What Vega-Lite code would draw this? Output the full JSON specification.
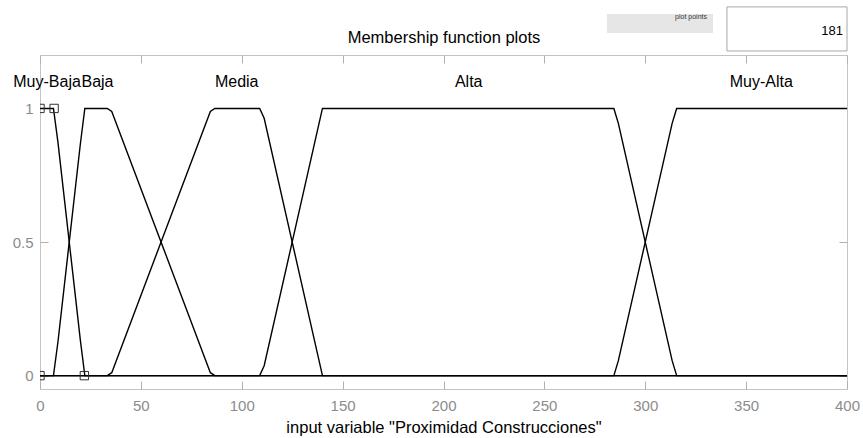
{
  "$schema": "https://vega.github.io/schema/vega-lite/v6.json",
  "width": 807,
  "height": 334,
  "autosize": {"type": "none"},
  "padding": {"left": 40, "top": 55, "right": 16, "bottom": 49},
  "background": "white",
  "config": {
    "view": {"stroke": "#c4c4c4", "strokeWidth": 1},
    "axis": {"domain": false, "grid": false, "tickColor": "#b0b0b0", "tickSize": -8, "labelColor": "#8c8c8c", "labelFont": "Liberation Sans", "labelFontSize": 15, "labelFlush": false, "titleFont": "Liberation Sans", "titleFontSize": 16.5, "titleFontWeight": "normal", "titleColor": "#000000"}
  },
  "datasets": {
    "mf": [
      {"set": "Muy-Baja", "x": 0, "y": 1}, {"set": "Muy-Baja", "x": 6.67, "y": 1}, {"set": "Muy-Baja", "x": 8.89, "y": 0.874}, {"set": "Muy-Baja", "x": 20, "y": 0.133}, {"set": "Muy-Baja", "x": 22.22, "y": 0}, {"set": "Muy-Baja", "x": 400, "y": 0},
      {"set": "Baja", "x": 0, "y": 0}, {"set": "Baja", "x": 6.67, "y": 0}, {"set": "Baja", "x": 8.89, "y": 0.126}, {"set": "Baja", "x": 20, "y": 0.867}, {"set": "Baja", "x": 22.22, "y": 1}, {"set": "Baja", "x": 33.33, "y": 1}, {"set": "Baja", "x": 35.56, "y": 0.989}, {"set": "Baja", "x": 84.44, "y": 0.011}, {"set": "Baja", "x": 86.67, "y": 0}, {"set": "Baja", "x": 400, "y": 0},
      {"set": "Media", "x": 0, "y": 0}, {"set": "Media", "x": 33.33, "y": 0}, {"set": "Media", "x": 35.56, "y": 0.011}, {"set": "Media", "x": 84.44, "y": 0.989}, {"set": "Media", "x": 86.67, "y": 1}, {"set": "Media", "x": 108.89, "y": 1}, {"set": "Media", "x": 111.11, "y": 0.963}, {"set": "Media", "x": 137.78, "y": 0.074}, {"set": "Media", "x": 140, "y": 0}, {"set": "Media", "x": 400, "y": 0},
      {"set": "Alta", "x": 0, "y": 0}, {"set": "Alta", "x": 108.89, "y": 0}, {"set": "Alta", "x": 111.11, "y": 0.037}, {"set": "Alta", "x": 137.78, "y": 0.926}, {"set": "Alta", "x": 140, "y": 1}, {"set": "Alta", "x": 284.44, "y": 1}, {"set": "Alta", "x": 286.67, "y": 0.944}, {"set": "Alta", "x": 313.33, "y": 0.056}, {"set": "Alta", "x": 315.56, "y": 0}, {"set": "Alta", "x": 400, "y": 0},
      {"set": "Muy-Alta", "x": 0, "y": 0}, {"set": "Muy-Alta", "x": 284.44, "y": 0}, {"set": "Muy-Alta", "x": 286.67, "y": 0.056}, {"set": "Muy-Alta", "x": 313.33, "y": 0.944}, {"set": "Muy-Alta", "x": 315.56, "y": 1}, {"set": "Muy-Alta", "x": 400, "y": 1}
    ],
    "params": [
      {"x": 0, "y": 1}, {"x": 7, "y": 1}, {"x": 0, "y": 0}, {"x": 22, "y": 0}
    ],
    "labels": [
      {"set": "Muy-Baja", "x": 3.5, "y": 1.1},
      {"set": "Baja", "x": 28.5, "y": 1.1},
      {"set": "Media", "x": 97.5, "y": 1.1},
      {"set": "Alta", "x": 212.5, "y": 1.1},
      {"set": "Muy-Alta", "x": 357.5, "y": 1.1}
    ],
    "uiGray": [{"x": 281.0, "x2": 333.6, "y": 1.353, "y2": 1.282}],
    "uiBox": [{"x": 340.5, "x2": 400.0, "y": 1.380, "y2": 1.215}],
    "uiText1": [{"text": "plot points", "x": 330.6, "y": 1.342}],
    "uiText2": [{"text": "181", "x": 398.0, "y": 1.290}]
  },
  "resolve": {"axis": {"x": "independent", "y": "independent"}},
  "layer": [
    {
      "data": {"name": "mf"},
      "mark": {"type": "line", "color": "#000000", "strokeWidth": 1.4, "clip": true},
      "encoding": {
        "x": {"field": "x", "type": "quantitative", "scale": {"domain": [0, 400], "nice": false, "zero": false},
              "axis": {"orient": "bottom", "values": [0, 50, 100, 150, 200, 250, 300, 350, 400], "format": "d", "labelPadding": 17, "title": "input variable \"Proximidad Construcciones\"", "titlePadding": 6}},
        "y": {"field": "y", "type": "quantitative", "scale": {"domain": [-0.05, 1.2], "nice": false, "zero": false},
              "axis": {"orient": "left", "values": [0, 0.5, 1], "format": "~g", "labelPadding": 15, "title": null}},
        "detail": {"field": "set"}
      }
    },
    {
      "data": {"name": "mf"},
      "mark": {"type": "point", "opacity": 0},
      "encoding": {
        "x": {"field": "x", "type": "quantitative", "axis": {"orient": "top", "values": [0, 50, 100, 150, 200, 250, 300, 350, 400], "labels": false, "title": "Membership function plots", "titlePadding": 9}},
        "y": {"field": "y", "type": "quantitative", "axis": {"orient": "right", "values": [0, 0.5, 1], "labels": false, "title": null}}
      }
    },
    {
      "data": {"name": "params"},
      "mark": {"type": "point", "shape": "square", "size": 70, "filled": false, "stroke": "#303030", "strokeWidth": 1, "opacity": 1, "clip": true},
      "encoding": {
        "x": {"field": "x", "type": "quantitative", "axis": null},
        "y": {"field": "y", "type": "quantitative", "axis": null}
      }
    },
    {
      "data": {"name": "labels"},
      "mark": {"type": "text", "font": "Liberation Sans", "fontSize": 16, "color": "#000000", "baseline": "middle", "align": "center"},
      "encoding": {
        "x": {"field": "x", "type": "quantitative", "axis": null},
        "y": {"field": "y", "type": "quantitative", "axis": null},
        "text": {"field": "set"}
      }
    },
    {
      "data": {"name": "uiGray"},
      "mark": {"type": "rect", "fill": "#e6e6e6"},
      "encoding": {
        "x": {"field": "x", "type": "quantitative", "axis": null},
        "x2": {"field": "x2"},
        "y": {"field": "y", "type": "quantitative", "axis": null},
        "y2": {"field": "y2"}
      }
    },
    {
      "data": {"name": "uiBox"},
      "mark": {"type": "rect", "fill": "#ffffff", "stroke": "#a8a8a8", "strokeWidth": 1},
      "encoding": {
        "x": {"field": "x", "type": "quantitative", "axis": null},
        "x2": {"field": "x2"},
        "y": {"field": "y", "type": "quantitative", "axis": null},
        "y2": {"field": "y2"}
      }
    },
    {
      "data": {"name": "uiText1"},
      "mark": {"type": "text", "font": "Liberation Sans", "fontSize": 7, "color": "#333333", "align": "right", "baseline": "middle"},
      "encoding": {
        "x": {"field": "x", "type": "quantitative", "axis": null},
        "y": {"field": "y", "type": "quantitative", "axis": null},
        "text": {"field": "text"}
      }
    },
    {
      "data": {"name": "uiText2"},
      "mark": {"type": "text", "font": "Liberation Sans", "fontSize": 13, "color": "#000000", "align": "right", "baseline": "middle"},
      "encoding": {
        "x": {"field": "x", "type": "quantitative", "axis": null},
        "y": {"field": "y", "type": "quantitative", "axis": null},
        "text": {"field": "text"}
      }
    }
  ]
}
